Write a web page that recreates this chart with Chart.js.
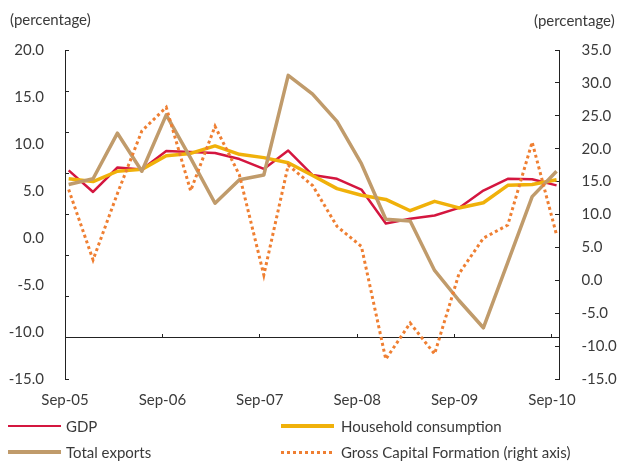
<!DOCTYPE html>
<html>
<head>
<meta charset="utf-8">
<script src="https://cdn.jsdelivr.net/npm/chart.js@4/dist/chart.umd.min.js"></script>
<style>
    body { margin: 0; background: #fff; }
    #wrap { position: relative; width: 619px; height: 461px; font-family: 'Lato', sans-serif; color: #3a3a3a; }
    #chart { position: absolute; left: 0; top: 0; }
    .unit { position: absolute; font-size: 15px; line-height: 18px; }
    .item { position: absolute; height: 18px; font-size: 15px; line-height: 18px; white-space: nowrap; }
    .item .swatch { position: absolute; top: 8px; width: 53px; }
    .item .text { position: absolute; top: 0; }
</style>
</head>
<body>
<div id="wrap">
    <canvas id="chart" width="619" height="461"></canvas>
    <div class="unit" style="left:10px;top:10px">(percentage)</div>
    <div class="unit" style="left:534px;top:11px">(percentage)</div>
    <div id="legend"></div>
</div>
<script>
// quarterly data, Sep-05 .. Sep-10
const quarters = ['Sep-05', 'Dec-05', 'Mar-06', 'Jun-06', 'Sep-06', 'Dec-06', 'Mar-07', 'Jun-07',
    'Sep-07', 'Dec-07', 'Mar-08', 'Jun-08', 'Sep-08', 'Dec-08', 'Mar-09', 'Jun-09', 'Sep-09',
    'Dec-09', 'Mar-10', 'Jun-10', 'Sep-10'];
const tickLabels = ['Sep-05', 'Sep-06', 'Sep-07', 'Sep-08', 'Sep-09', 'Sep-10'];

const gdp = [7.2, 4.9, 7.5, 7.3, 9.25, 9.15, 9.05, 8.4, 7.35, 9.3, 6.7, 6.3, 5.15, 1.55, 2.05, 2.4, 3.2, 5.05, 6.3, 6.25, 5.6];
const household = [6.3, 6.0, 7.1, 7.3, 8.75, 9.0, 9.8, 8.9, 8.55, 8.0, 6.65, 5.25, 4.55, 4.1, 2.9, 3.9, 3.2, 3.75, 5.6, 5.7, 6.2];
const exportsTotal = [5.7, 6.3, 11.15, 7.1, 13.1, 8.5, 3.7, 6.2, 6.7, 17.3, 15.3, 12.4, 7.9, 2.0, 1.8, -3.45, -6.65, -9.55, -2.6, 4.4, 7.1];
const gcf = [13.8, 3.1, 13.2, 22.7, 26.3, 13.6, 23.4, 16.0, 0.8, 17.5, 14.4, 8.2, 5.15, -12.0, -6.5, -11.2, 1.0, 6.4, 8.4, 21.0, 6.9];

const textColor = '#3a3a3a';
const axisColor = '#222';
const font = { family: 'Lato', size: 15 };

function toPoints(values) {
    return values.map((v, i) => ({ x: i, y: v }));
}

const series = [
    { label: 'GDP', data: gdp, color: '#d4163f', width: 2.5, axis: 'y', order: 3 },
    { label: 'Household consumption', data: household, color: '#f0b10a', width: 3.5, axis: 'y', order: 2 },
    { label: 'Total exports', data: exportsTotal, color: '#c09b6b', width: 3.5, axis: 'y', order: 1 },
    { label: 'Gross Capital Formation (right axis)', data: gcf, color: '#ef7f32', width: 3, axis: 'y2', order: 0, dash: [3, 3] }
];

Chart.defaults.font.family = 'Lato';

new Chart(document.getElementById('chart'), {
    type: 'line',
    data: {
        datasets: series.map(s => ({
            label: s.label,
            data: toPoints(s.data),
            borderColor: s.color,
            borderWidth: s.width,
            borderDash: s.dash || [],
            borderCapStyle: 'butt',
            borderJoinStyle: s.dash ? 'miter' : 'round',
            xAxisID: 'x',
            yAxisID: s.axis,
            order: s.order,
            tension: 0,
            pointRadius: 0,
            fill: false
        }))
    },
    options: {
        responsive: false,
        animation: false,
        layout: { padding: { top: 50, bottom: 52, left: 0, right: 0 } },
        plugins: {
            legend: { display: false },
            tooltip: { enabled: false }
        },
        scales: {
            // data axis (hidden), one unit per quarter
            x: { type: 'linear', display: false, min: -0.15, max: 20.1 },
            // year labels under the plot
            xl: {
                type: 'linear',
                position: 'bottom',
                min: 0,
                max: 5.072,
                afterFit: s => { s.height = 30; },
                border: { display: false },
                grid: { drawOnChartArea: false, drawTicks: false },
                ticks: {
                    stepSize: 1,
                    includeBounds: false,
                    autoSkip: false,
                    maxRotation: 0,
                    padding: 12,
                    color: textColor,
                    font: font,
                    callback: v => tickLabels[Math.round(v)]
                }
            },
            // horizontal axis line crossing the plot
            xa: {
                type: 'linear',
                position: { y: -10.6 },
                min: 0,
                max: 5.072,
                border: { display: true, color: axisColor, width: 1 },
                grid: { drawOnChartArea: false, tickLength: -4, color: axisColor },
                ticks: { display: false, stepSize: 1, includeBounds: false }
            },
            y: {
                position: 'left',
                min: -15,
                max: 20,
                afterFit: s => { s.width = 65; },
                border: { display: false },
                grid: { drawOnChartArea: false, drawTicks: false },
                ticks: {
                    stepSize: 5,
                    padding: 21,
                    color: textColor,
                    font: font,
                    callback: v => v.toFixed(1)
                }
            },
            // left axis line with its own tick marks
            yt: {
                position: { x: -0.15 },
                min: -20,
                max: 20,
                border: { display: true, color: axisColor, width: 1 },
                grid: { drawOnChartArea: false, tickLength: -4, color: axisColor },
                ticks: { display: false, stepSize: 5 }
            },
            y2: {
                position: 'right',
                min: -15,
                max: 35,
                afterFit: s => { s.width = 60; },
                border: { display: true, color: axisColor, width: 1 },
                grid: { drawOnChartArea: false, tickLength: -4, color: axisColor },
                ticks: {
                    stepSize: 5,
                    padding: 26.5,
                    color: textColor,
                    font: font,
                    callback: v => v.toFixed(1)
                }
            }
        }
    }
});

// legend, two columns under the chart
const legendSlots = [
    { left: 8, top: 417, textLeft: 58 },
    { left: 281, top: 417, textLeft: 60 },
    { left: 8, top: 443, textLeft: 58 },
    { left: 281, top: 443, textLeft: 60 }
];
const legend = document.getElementById('legend');
series.forEach((s, i) => {
    const slot = legendSlots[i];
    const item = document.createElement('div');
    item.className = 'item';
    item.style.left = slot.left + 'px';
    item.style.top = slot.top + 'px';
    const swatch = document.createElement('span');
    swatch.className = 'swatch';
    swatch.style.height = s.width + 'px';
    swatch.style.top = (9 - s.width / 2) + 'px';
    swatch.style.background = s.dash
        ? 'repeating-linear-gradient(90deg, ' + s.color + ' 0 3px, transparent 3px 6px)'
        : s.color;
    const text = document.createElement('span');
    text.className = 'text';
    text.style.left = slot.textLeft + 'px';
    text.textContent = s.label;
    item.appendChild(swatch);
    item.appendChild(text);
    legend.appendChild(item);
});
</script>
</body>
</html>
